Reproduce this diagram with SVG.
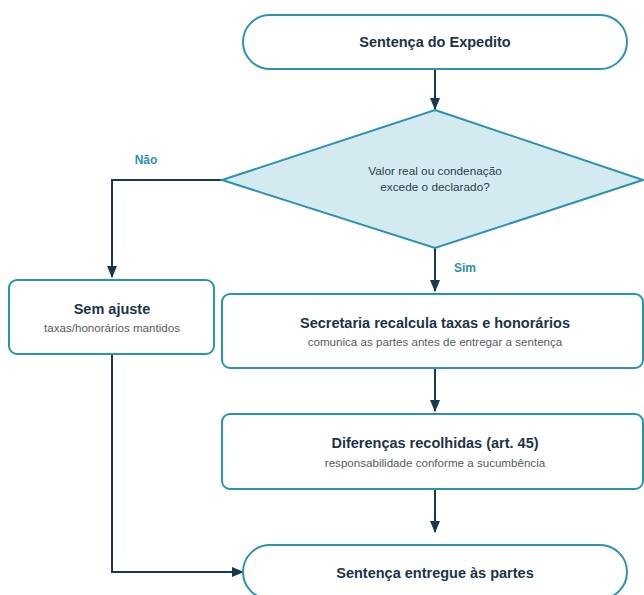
<svg xmlns="http://www.w3.org/2000/svg" width="644" height="595" viewBox="0 0 644 595">
<style>
.box{fill:#ffffff;stroke:#2a93ad;stroke-width:2}
.dia{fill:#d4eaf1;stroke:#2a93ad;stroke-width:2}
.edge{fill:none;stroke:#17394d;stroke-width:2}
.t{font-family:"Liberation Sans",Arial,sans-serif;font-weight:bold;font-size:14.5px;fill:#1b3447;text-anchor:middle}
.s{font-family:"Liberation Sans",Arial,sans-serif;font-size:11.6px;fill:#555c63;text-anchor:middle}
.q{font-family:"Liberation Sans",Arial,sans-serif;font-size:11.8px;fill:#2c3e4a;text-anchor:middle}
.lbl{font-family:"Liberation Sans",Arial,sans-serif;font-weight:bold;font-size:12px;fill:#2a93ad;text-anchor:middle}
</style>
<defs>
<marker id="arr" markerWidth="12" markerHeight="10" refX="11" refY="5" orient="auto" markerUnits="userSpaceOnUse">
<path d="M0,0 L12,5 L0,10 Z" fill="#17394d"/>
</marker>
</defs>
<rect width="644" height="595" fill="#ffffff"/>
<g id="connectors">
<line class="edge" x1="435" y1="69" x2="435" y2="109" marker-end="url(#arr)"/>
<polyline class="edge" points="222,180 112,180 112,277" marker-end="url(#arr)"/>
<line class="edge" x1="435" y1="248" x2="435" y2="291" marker-end="url(#arr)"/>
<line class="edge" x1="435" y1="368" x2="435" y2="411" marker-end="url(#arr)"/>
<line class="edge" x1="435" y1="489" x2="435" y2="532" marker-end="url(#arr)"/>
<polyline class="edge" points="112,354 112,572 243,572" marker-end="url(#arr)"/>
<text class="lbl" x="146" y="164">Não</text>
<text class="lbl" x="465" y="272">Sim</text>
</g>
<g id="start">
<rect class="box" x="243" y="15" width="384" height="54" rx="27"/>
<text class="t" x="435" y="47">Sentença do Expedito</text>
</g>
<g id="decision">
<polygon class="dia" points="435,110 643,180 435,248 222,180"/>
<text class="q" x="435" y="175">Valor real ou condenação</text>
<text class="q" x="435" y="191">excede o declarado?</text>
</g>
<g id="semajuste">
<rect class="box" x="9" y="280" width="205" height="74" rx="8"/>
<text class="t" x="112" y="314">Sem ajuste</text>
<text class="s" x="112" y="332">taxas/honorários mantidos</text>
</g>
<g id="secretaria">
<rect class="box" x="222" y="294" width="421" height="74" rx="8"/>
<text class="t" x="435" y="328">Secretaria recalcula taxas e honorários</text>
<text class="s" x="435" y="346">comunica as partes antes de entregar a sentença</text>
</g>
<g id="diferencas">
<rect class="box" x="222" y="414" width="421" height="75" rx="8"/>
<text class="t" x="435" y="448">Diferenças recolhidas (art. 45)</text>
<text class="s" x="435" y="467">responsabilidade conforme a sucumbência</text>
</g>
<g id="end">
<rect class="box" x="243" y="545" width="384" height="54" rx="27"/>
<text class="t" x="435" y="578">Sentença entregue às partes</text>
</g>
</svg>
